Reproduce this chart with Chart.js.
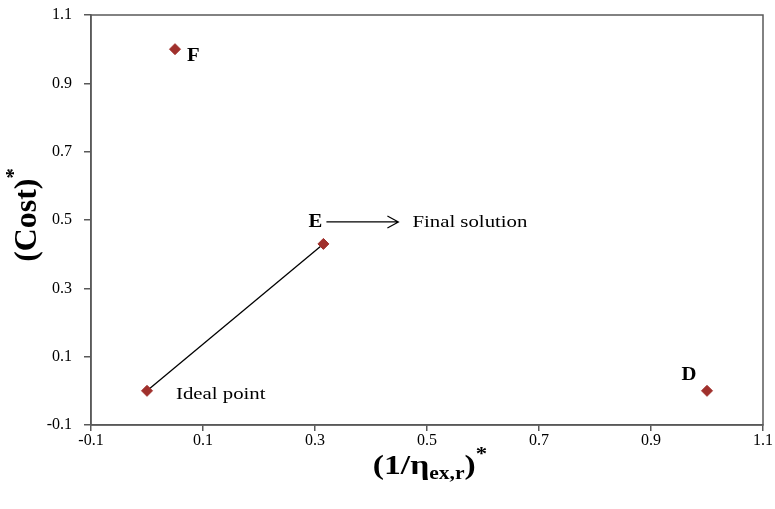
<!DOCTYPE html>
<html><head><meta charset="utf-8">
<script src="https://cdn.jsdelivr.net/npm/chart.js@4.4.1/dist/chart.umd.min.js"></script>
<style>html,body{margin:0;padding:0;background:#fff;}</style>
</head><body>
<canvas id="c" width="775" height="509"></canvas>
<script>
// ---- data ----
const pointNames = ['F', 'E', 'Ideal point', 'D'];
const xValues = [0.05, 0.315, 0.0, 1.0];
const yValues = [1.0, 0.43, 0.0, 0.0];
const lineFrom = 'Ideal point';
const lineTo = 'E';
const arrowFrom = 'E';
const arrowText = 'Final solution';
const xTickValues = [-0.1, 0.1, 0.3, 0.5, 0.7, 0.9, 1.1];
const yTickValues = [-0.1, 0.1, 0.3, 0.5, 0.7, 0.9, 1.1];
const xRange = [-0.1, 1.1];
const yRange = [-0.1, 1.1];

// ---- styles ----
const SERIF = '"Liberation Serif", "Times New Roman", serif';
const markerColor = '#a0302c';
const axisColor = '#595959';
// label placement (pixel offsets from each point)
const labelStyle = {
  'F': {dx: 12, dy: 7, align: 'left', bold: true, size: 18},
  'E': {dx: -8, dy: -22, align: 'center', bold: true, size: 18},
  'Ideal point': {dx: 29, dy: 4, align: 'left', bold: false, size: 16},
  'D': {dx: -18, dy: -15, align: 'center', bold: true, size: 18}
};
const STRETCH = 1.3;

const pts = pointNames.map((n, i) => ({x: xValues[i], y: yValues[i], name: n}));
const idx = n => pointNames.indexOf(n);

function stretchedText(ctx, text, x, y, font, align, sx) {
  ctx.save();
  ctx.font = font;
  const w = ctx.measureText(text).width * sx;
  let left = x;
  if (align === 'center') left = x - w / 2;
  else if (align === 'right') left = x - w;
  ctx.translate(left, y);
  ctx.scale(sx, 1);
  ctx.textAlign = 'left';
  ctx.textBaseline = 'middle';
  ctx.fillText(text, 0, 0);
  ctx.restore();
}

const decor = {
  id: 'decor',
  afterDraw(chart) {
    const ctx = chart.ctx;
    const ca = chart.chartArea;
    const xs = chart.scales.x, ys = chart.scales.y;
    ctx.save();
    // frame
    ctx.strokeStyle = axisColor;
    ctx.lineWidth = 1.5;
    ctx.strokeRect(ca.left, ca.top, ca.right - ca.left, ca.bottom - ca.top);
    ctx.fillStyle = '#000';
    // point labels
    pts.forEach(p => {
      const st = labelStyle[p.name];
      const px = xs.getPixelForValue(p.x), py = ys.getPixelForValue(p.y);
      const font = (st.bold ? 'bold ' : '') + st.size + 'px ' + SERIF;
      stretchedText(ctx, p.name, px + st.dx, py + st.dy, font, st.align, st.bold ? 1.15 : STRETCH);
    });
    // arrow from E label to "Final solution"
    const a = idx(arrowFrom);
    const ax = xs.getPixelForValue(xValues[a]), ay = ys.getPixelForValue(yValues[a]);
    const x0 = ax + 3, x1 = ax + 75, yA = ay - 22;
    ctx.strokeStyle = '#000';
    ctx.lineWidth = 1.2;
    ctx.beginPath();
    ctx.moveTo(x0, yA); ctx.lineTo(x1, yA);
    ctx.moveTo(x1 - 11, yA - 6); ctx.lineTo(x1, yA); ctx.lineTo(x1 - 11, yA + 6);
    ctx.stroke();
    stretchedText(ctx, arrowText, ax + 89, ay - 21, '16px ' + SERIF, 'left', STRETCH);

    // y axis title: (Cost)*
    ctx.save();
    ctx.translate(28, 215);
    ctx.rotate(-Math.PI / 2);
    ctx.scale(1.1, 1.12);
    ctx.font = 'bold 29px ' + SERIF;
    const t1 = '(Cost)';
    const w1 = ctx.measureText(t1).width;
    ctx.font = 'bold 19px ' + SERIF;
    const w2 = ctx.measureText('*').width;
    const tot = w1 + w2;
    ctx.textBaseline = 'middle';
    ctx.textAlign = 'left';
    ctx.font = 'bold 29px ' + SERIF;
    ctx.fillText(t1, -tot / 2, 0);
    ctx.font = 'bold 19px ' + SERIF;
    ctx.fillText('*', -tot / 2 + w1, -12);
    ctx.restore();

    // x axis title: (1/η_{ex,r})*
    ctx.save();
    const parts = [
      {t: '(1/\u03b7', f: 'bold 28px ' + SERIF, dy: 0},
      {t: 'ex,r', f: 'bold 18px ' + SERIF, dy: 7},
      {t: ')', f: 'bold 28px ' + SERIF, dy: 0},
      {t: '*', f: 'bold 19px ' + SERIF, dy: -12}
    ];
    const sx = 1.2;
    let total = 0;
    parts.forEach(p => { ctx.font = p.f; p.w = ctx.measureText(p.t).width; total += p.w; });
    ctx.translate(430 - total * sx / 2, 467);
    ctx.scale(sx, 1);
    let cx = 0;
    ctx.textBaseline = 'middle';
    ctx.textAlign = 'left';
    parts.forEach(p => { ctx.font = p.f; ctx.fillText(p.t, cx, p.dy); cx += p.w; });
    ctx.restore();
    ctx.restore();
  }
};

const tickCfg = {
  font: {family: SERIF, size: 16},
  color: '#000',
  callback: v => Number(v).toFixed(1)
};

new Chart(document.getElementById('c'), {
  type: 'scatter',
  data: {
    datasets: [
      {
        label: 'points',
        data: pts,
        pointStyle: 'rectRot',
        pointRadius: 5.5,
        backgroundColor: markerColor,
        borderColor: markerColor,
        borderWidth: 1,
        order: 0
      },
      {
        label: 'line',
        data: [pts[idx(lineFrom)], pts[idx(lineTo)]],
        showLine: true,
        borderColor: '#000',
        borderWidth: 1.3,
        pointRadius: 0,
        order: 1
      }
    ]
  },
  options: {
    responsive: false,
    animation: false,
    devicePixelRatio: 1,
    layout: {padding: {top: 15, right: 12, left: 0, bottom: 0}},
    plugins: {legend: {display: false}, tooltip: {enabled: false}},
    scales: {
      x: {
        type: 'linear', min: xRange[0], max: xRange[1],
        afterBuildTicks: s => { s.ticks = xTickValues.map(v => ({value: v})); },
        afterFit: s => { s.height = 84; s.paddingLeft = 0; s.paddingRight = 0; },
        ticks: Object.assign({padding: 0, maxRotation: 0, autoSkip: false}, tickCfg),
        grid: {drawOnChartArea: false, drawTicks: true, tickLength: 6, color: axisColor, lineWidth: 1.5},
        border: {color: axisColor, width: 1.5}
      },
      y: {
        type: 'linear', min: yRange[0], max: yRange[1],
        afterBuildTicks: s => { s.ticks = yTickValues.map(v => ({value: v})); },
        afterFit: s => { s.width = 91; s.paddingTop = 0; s.paddingBottom = 0; },
        ticks: Object.assign({padding: 12, autoSkip: false}, tickCfg),
        grid: {drawOnChartArea: false, drawTicks: true, tickLength: 7, color: axisColor, lineWidth: 1.5},
        border: {color: axisColor, width: 1.5}
      }
    }
  },
  plugins: [decor]
});
</script>
</body></html>
